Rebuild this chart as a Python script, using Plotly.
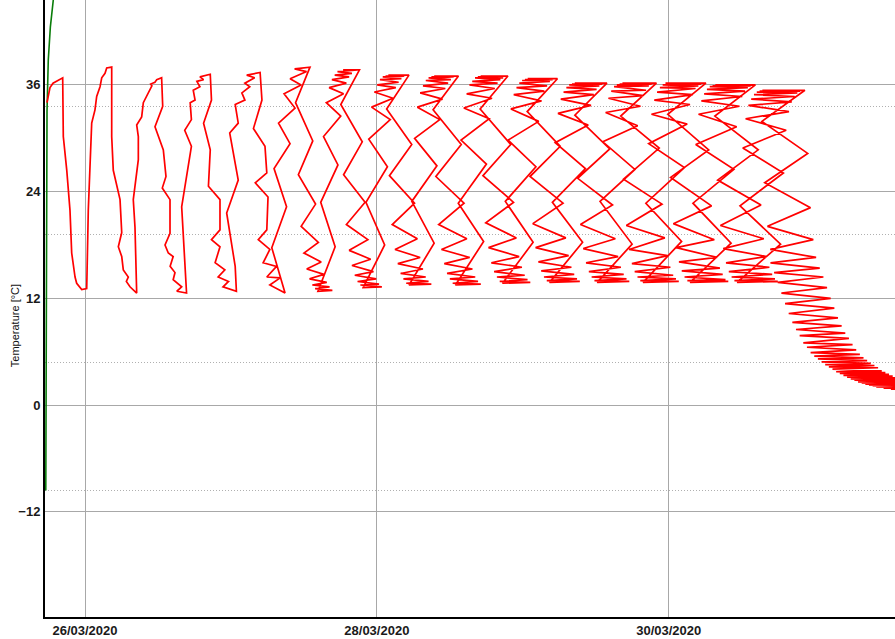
import pandas as pd
import plotly.graph_objects as go

# ---------------- data (hours after 26/03/2020 00:00, temperature in °C) ----------------
green_t = [-6.45, -6.4, -6.33, -6.25, -6.04, -5.7, -5.21, -5.0]
green_T = [-9.6, 5.0, 22.0, 33.0, 38.8, 42.5, 45.6, 47.0]

red_start_t = [-6.25, -5.76, -5.26, -4.44]
red_start_T = [34.0, 35.7, 36.2, 36.5]

c01_t = [-3.67, -3.57, -3.0, -2.47, -2.19, -1.64, -1.37, -0.54, 0.28, 0.54, 0.94, 1.1, 1.64, 1.92, 2.47, 2.75, 3.29, 3.57]
c01_T = [36.8, 30.2, 26.4, 21.9, 17.1, 14.4, 13.7, 13.0, 13.1, 21.9, 29.8, 31.7, 33.2, 34.7, 35.8, 36.8, 37.3, 37.9]

c02_t = [4.39, 4.39, 4.65, 5.21, 5.76, 6.04, 5.48, 6.04, 6.30, 7.12, 6.8, 7.40, 8.22, 8.50,
         8.22, 7.94, 8.77, 8.77, 8.50, 9.32, 9.59, 10.14, 10.69, 11.0, 10.8, 11.5, 11.8]
c02_T = [38.0, 30.2, 26.4, 24.6, 23.1, 19.4, 17.8, 16.7, 15.2, 14.4, 13.9, 13.3, 12.8, 12.6,
         20.0, 23.1, 27.6, 30.2, 31.5, 32.4, 34.0, 34.7, 35.4, 35.9, 36.1, 36.3, 36.6]

c03_t = [12.6, 12.78, 11.51, 12.88, 13.32, 12.71, 13.98, 13.98, 13.16, 13.7, 14.5, 14.0, 14.8, 14.5, 15.9, 15.1, 16.7,
         15.9, 17.5, 16.4, 17.5, 17.3, 18.1, 17.8, 18.9, 18.4, 19.5, 18.9]
c03_T = [36.8, 33.6, 31.3, 28.7, 25.7, 24.4, 23.1, 19.3, 18.0, 17.1, 16.7, 15.6, 14.9, 14.1, 13.3, 12.8, 12.6,
         22.3, 29.1, 30.9, 32.1, 34.0, 34.3, 35.4, 35.8, 36.4, 36.6, 36.9]

c04_t = [20.6, 20.8, 19.5, 20.6, 20.3, 22.2, 22.2, 20.8, 22.2, 21.4, 23.0, 21.9, 23.6, 22.7, 24.9,
         24.7, 23.3, 25.2, 23.8, 25.2, 24.7, 26.3, 25.8, 27.1, 26.3, 27.9, 26.6]
c04_T = [37.2, 34.3, 31.7, 28.7, 24.6, 23.1, 19.7, 18.6, 17.8, 16.0, 15.2, 14.4, 13.9, 13.3, 12.8,
         15.6, 21.6, 25.3, 30.6, 31.7, 33.8, 34.3, 35.1, 35.8, 36.2, 36.8, 37.1]

c05_t = [28.8, 29.1, 27.7, 29.6, 29.9, 28.0, 30.1, 29.9, 28.5, 30.4, 29.3, 31.5, 29.9, 32.1, 30.4, 32.9,
         30.72, 33.15, 31.09, 33.72, 31.83, 34.54, 32.74, 35.53, 33.73, 36.44, 34.47]
c05_T = [37.4, 34.3, 31.1, 29.1, 26.1, 25.0, 23.4, 19.7, 18.6, 17.5, 16.0, 15.6, 14.4, 14.3, 13.5, 12.6,
         17.7, 22.3, 26.6, 29.4, 31.7, 33.4, 35.0, 36.0, 36.7, 37.5, 37.8]

c06_t = [37.00, 34.63, 37.46, 35.09, 37.92, 35.55, 38.38, 36.01, 38.84, 36.47, 39.30, 36.93, 39.76, 37.39, 40.22, 37.85, 40.68, 38.31,
         41.14, 38.77, 41.60, 39.23, 42.06, 39.69, 42.52, 40.15, 42.98, 40.61, 43.44, 41.07, 43.90, 41.53, 44.36, 41.99, 44.82, 42.45]
c06_T = [38.0, 34.0, 29.7, 25.9, 22.6, 20.1, 18.3, 17.1, 16.1, 15.3, 14.7, 14.2, 13.8, 13.5, 13.3, 13.1, 12.9, 12.8,
         17.8, 22.8, 27.0, 30.2, 32.5, 34.0, 35.0, 35.7, 36.2, 36.6, 36.9, 37.1, 37.3, 37.5, 37.6, 37.6, 37.7, 37.7]

c07_t = [45.14, 42.07, 45.60, 42.53, 46.06, 42.99, 46.52, 43.45, 46.98, 43.91, 47.44, 44.37, 47.90, 44.83, 48.36, 45.29, 48.82, 45.75,
         49.28, 46.21, 49.74, 46.67, 50.20, 47.13, 50.66, 47.59, 51.12, 48.05, 51.58, 48.51, 52.04, 48.97, 52.50, 49.43, 52.96, 49.89]
c07_T = [37.7, 33.8, 29.6, 25.9, 22.8, 20.3, 18.6, 17.4, 16.4, 15.7, 15.0, 14.6, 14.2, 13.9, 13.6, 13.5, 13.3, 13.2,
         18.0, 22.8, 26.8, 29.9, 32.1, 33.5, 34.5, 35.2, 35.7, 36.0, 36.3, 36.6, 36.7, 36.9, 37.0, 37.0, 37.1, 37.1]

c08_t = [53.28, 49.61, 53.74, 50.07, 54.20, 50.53, 54.66, 50.99, 55.12, 51.45, 55.58, 51.91, 56.04, 52.37, 56.50, 52.83, 56.96, 53.29,
         57.42, 53.75, 57.88, 54.21, 58.34, 54.67, 58.80, 55.13, 59.26, 55.59, 59.72, 56.05, 60.18, 56.51, 60.64, 56.97, 61.10, 57.43]
c08_T = [37.1, 33.3, 29.3, 25.8, 22.7, 20.3, 18.7, 17.5, 16.6, 15.9, 15.3, 14.8, 14.4, 14.2, 13.9, 13.7, 13.6, 13.5,
         18.2, 22.9, 26.9, 30.0, 32.1, 33.5, 34.4, 35.1, 35.6, 35.9, 36.2, 36.5, 36.6, 36.8, 36.9, 36.9, 37.0, 37.0]

c09_t = [61.42, 57.25, 61.88, 57.71, 62.34, 58.17, 62.80, 58.63, 63.26, 59.09, 63.72, 59.55, 64.18, 60.01, 64.64, 60.47, 65.10, 60.93,
         65.56, 61.39, 66.02, 61.85, 66.48, 62.31, 66.94, 62.77, 67.40, 63.23, 67.86, 63.69, 68.32, 64.15, 68.78, 64.61, 69.24, 65.07]
c09_T = [37.0, 33.2, 29.3, 25.7, 22.7, 20.3, 18.7, 17.5, 16.6, 15.9, 15.3, 14.8, 14.4, 14.2, 13.9, 13.7, 13.6, 13.5,
         18.4, 22.7, 27.1, 29.8, 32.2, 33.4, 34.5, 35.0, 35.6, 36.0, 36.2, 36.4, 36.6, 36.8, 36.8, 36.9, 37.0, 37.0]

c10_t = [69.56, 64.99, 70.02, 65.45, 70.48, 65.91, 70.94, 66.37, 71.40, 66.83, 71.86, 67.29, 72.32, 67.75, 72.78, 68.21, 73.24, 68.67,
         73.70, 69.13, 74.16, 69.59, 74.62, 70.05, 75.08, 70.51, 75.54, 70.97, 76.00, 71.43, 76.46, 71.89, 76.92, 72.35, 77.38, 72.81]
c10_T = [37.0, 33.3, 29.3, 25.8, 22.8, 20.5, 18.8, 17.7, 16.7, 16.0, 15.5, 15.0, 14.6, 14.4, 14.1, 13.9, 13.8, 13.7,
         18.3, 22.9, 26.8, 29.8, 31.9, 33.3, 34.2, 34.9, 35.3, 35.7, 35.9, 36.2, 36.4, 36.5, 36.6, 36.6, 36.7, 36.7]

c11_t = [77.70, 72.73, 78.16, 73.19, 78.62, 73.65, 79.08, 74.11, 79.54, 74.57, 80.00, 75.03, 80.46, 75.49, 80.92, 75.95, 81.38, 76.41,
         81.84, 76.87, 82.30, 77.33, 82.76, 77.79, 83.22, 78.25, 83.68, 78.71, 84.14, 79.17, 84.60, 79.63, 85.06, 80.09, 85.52, 80.55]
c11_T = [36.7, 33.0, 29.1, 25.7, 22.7, 20.4, 18.8, 17.7, 16.8, 16.1, 15.5, 15.1, 14.7, 14.4, 14.2, 14.0, 13.9, 13.8,
         18.3, 22.8, 26.6, 29.5, 31.5, 32.8, 33.7, 34.4, 34.9, 35.2, 35.5, 35.7, 35.9, 36.0, 36.1, 36.1, 36.2, 36.2]

c12_t = [85.84, 80.57, 86.30, 81.03, 86.76, 81.49, 87.22, 81.95, 87.68, 82.41, 88.14, 82.87, 88.60, 83.33, 89.06, 83.79, 89.52, 84.25,
         89.98, 84.71, 90.44, 85.17, 90.90, 85.63, 91.36, 86.09, 91.82, 86.55, 92.28, 87.01, 92.74, 87.47, 93.20, 87.93, 93.66, 88.39]
c12_T = [36.2, 32.6, 28.8, 25.5, 22.5, 20.3, 18.7, 17.6, 16.7, 16.0, 15.5, 15.0, 14.7, 14.4, 14.2, 14.0, 13.9, 13.8,
         18.1, 22.9, 26.5, 29.6, 31.4, 32.9, 33.6, 34.5, 34.8, 35.3, 35.4, 35.8, 35.9, 36.0, 36.1, 36.1, 36.2, 36.2]

c13_t = [93.98, 88.11, 94.44, 88.57, 94.90, 89.03, 95.36, 89.49, 95.82, 89.95, 96.28, 90.41, 96.74, 90.87, 97.20, 91.33, 97.66, 91.79,
         98.12, 92.25, 98.58, 92.71, 99.04, 93.17, 99.50, 93.63, 99.96, 94.09, 100.42, 94.55, 100.88, 95.01, 101.34, 95.47, 101.80, 95.93]
c13_T = [36.2, 32.5, 28.9, 25.4, 22.6, 20.2, 18.8, 17.5, 16.8, 15.9, 15.5, 15.0, 14.6, 14.4, 14.2, 14.0, 13.9, 13.8,
         18.4, 22.7, 26.7, 29.4, 31.6, 32.7, 33.8, 34.3, 34.9, 35.2, 35.6, 35.7, 35.9, 36.0, 36.1, 36.2, 36.2, 36.2]

c14_t = [102.12, 95.85, 102.58, 96.31, 103.04, 96.77, 103.50, 97.23, 103.96, 97.69, 104.42, 98.15, 104.88, 98.61, 105.34, 99.07, 105.80, 99.53,
         106.26, 99.99, 106.72, 100.45, 107.18, 100.91, 107.64, 101.37, 108.10, 101.83, 108.56, 102.29, 109.02, 102.75, 109.48, 103.21, 109.94, 103.67]
c14_T = [36.2, 32.7, 28.7, 25.6, 22.4, 20.4, 18.6, 17.7, 16.6, 16.1, 15.4, 15.1, 14.7, 14.4, 14.1, 14.0, 13.9, 13.8,
         18.2, 22.7, 26.5, 29.3, 31.3, 32.7, 33.6, 34.2, 34.7, 35.0, 35.3, 35.5, 35.7, 35.8, 35.9, 35.9, 36.0, 36.0]

c15_t = [110.26, 103.59, 110.72, 104.05, 111.18, 104.51, 111.64, 104.97, 112.10, 105.43, 112.56, 105.89, 113.02, 106.35, 113.48, 106.81, 113.94, 107.27,
         114.40, 107.73, 114.86, 108.19, 115.32, 108.65, 115.78, 109.11, 116.24, 109.57, 116.70, 110.03, 117.16, 110.49, 117.62, 110.95, 118.08, 111.41]
c15_T = [36.0, 32.5, 28.7, 25.3, 22.5, 20.2, 18.7, 17.6, 16.7, 16.0, 15.5, 15.0, 14.7, 14.4, 14.2, 14.0, 13.9, 13.8,
         18.1, 22.4, 26.1, 28.9, 30.9, 32.2, 33.0, 33.7, 34.1, 34.4, 34.7, 34.9, 35.1, 35.2, 35.3, 35.3, 35.4, 35.4]

c16_t = [118.40, 111.33, 118.86, 111.79, 119.32, 112.25, 119.78, 112.71, 120.24]
c16_T = [35.4, 31.9, 28.3, 25.0, 22.2, 20.1, 18.6, 17.5, 16.6]

tail_t = [112.74, 120.84, 113.34, 121.44, 113.94, 122.04, 114.54, 122.64, 115.14, 123.24,
          115.74, 123.84, 116.34, 124.44, 116.94, 125.04, 117.54, 125.64, 118.14, 126.24,
          118.74, 126.84, 119.34, 127.44, 119.94, 128.04, 120.54, 128.64, 121.14, 129.24,
          121.74, 129.84, 122.34, 130.44, 122.94, 131.04, 123.54, 131.64, 124.14, 132.24,
          124.74, 132.84, 125.34, 133.44, 125.94, 134.04, 126.54, 134.64, 127.14, 135.24,
          127.74, 135.84, 128.34, 136.44, 128.94, 137.04, 129.54, 137.64, 130.14, 138.24,
          130.74, 138.84, 131.34, 139.44, 131.94, 140.04, 132.54, 140.64, 133.14, 141.24]
tail_T = [16.0, 15.4, 14.9, 14.4, 13.8, 13.2, 12.6, 12.0, 11.4, 10.9,
          10.3, 9.8, 9.3, 8.9, 8.5, 8.1, 7.8, 7.5, 7.0, 6.8,
          6.5, 6.2, 5.9, 5.7, 5.5, 5.3, 5.2, 5.0, 4.85, 4.7,
          4.55, 4.45, 4.3, 4.2, 4.05, 3.85, 3.75, 3.65, 3.55, 3.45,
          3.35, 3.25, 3.15, 3.05, 2.95, 2.85, 2.8, 2.7, 2.6, 2.55,
          2.5, 2.4, 2.35, 2.3, 2.25, 2.2, 2.15, 2.1, 2.05, 2.0,
          1.97, 1.94, 1.91, 1.88, 1.85, 1.82, 1.8, 1.78, 1.76, 1.74]

x_tick_dates = ["2020-03-26", "2020-03-28", "2020-03-30"]
x_tick_text = ["26/03/2020", "28/03/2020", "30/03/2020"]
y_tick_vals = [-12, 0, 12, 24, 36]
y_minor_vals = [-9.6, 4.8, 19.2, 33.6]

# ---------------- build series ----------------
segments = [(red_start_t, red_start_T), (c01_t, c01_T), (c02_t, c02_T), (c03_t, c03_T),
            (c04_t, c04_T), (c05_t, c05_T), (c06_t, c06_T), (c07_t, c07_T), (c08_t, c08_T),
            (c09_t, c09_T), (c10_t, c10_T), (c11_t, c11_T), (c12_t, c12_T), (c13_t, c13_T),
            (c14_t, c14_T), (c15_t, c15_T), (c16_t, c16_T), (tail_t, tail_T)]
red_h, red_T = [], []
for ts, Ts in segments:
    assert len(ts) == len(Ts), (len(ts), len(Ts))
    red_h += ts
    red_T += Ts

base = pd.Timestamp("2020-03-26 00:00")
def to_dt(hours):
    return [base + pd.Timedelta(hours=h) for h in hours]

fig = go.Figure()
fig.add_trace(go.Scatter(x=to_dt(green_t), y=green_T, mode="lines",
                         line=dict(color="#0a7d0a", width=1.6), showlegend=False))
fig.add_trace(go.Scatter(x=to_dt(red_h), y=red_T, mode="lines",
                         line=dict(color="#ff0000", width=1.7), showlegend=False))

x0 = base + pd.Timedelta(hours=-6.58)
x1 = base + pd.Timedelta(hours=133.22)

fig.update_layout(
    width=895, height=639,
    margin=dict(l=45, r=0, t=0, b=22),
    paper_bgcolor="white", plot_bgcolor="white",
    font=dict(family="Liberation Sans, Arial, sans-serif", color="#111111"),
    showlegend=False,
    xaxis=dict(range=[x0, x1], tickmode="array", tickvals=x_tick_dates, ticktext=x_tick_text,
               tickfont=dict(size=13, weight="bold", color="#1a1a1a"),
               showgrid=True, gridcolor="#a8a8a8", gridwidth=1,
               showline=True, linecolor="#000000", linewidth=2, mirror=False,
               ticks="", zeroline=False),
    yaxis=dict(range=[-23.83, 45.55], tickmode="array", tickvals=y_tick_vals,
               tickfont=dict(size=13, weight="bold", color="#1a1a1a"),
               showgrid=True, gridcolor="#a8a8a8", gridwidth=1,
               showline=True, linecolor="#000000", linewidth=2,
               ticks="", zeroline=False,
               minor=dict(tickmode="array", tickvals=y_minor_vals, showgrid=True,
                          gridcolor="#b0b0b0", gridwidth=1, griddash="1px,2px", ticks="")),
    annotations=[dict(text="Temperature [°C]", xref="paper", yref="paper",
                      x=-0.036, y=0.472, xanchor="center", yanchor="middle",
                      textangle=-90, showarrow=False,
                      font=dict(size=11, color="#111111"))],
)

fig.write_html("out.html", config={"displayModeBar": False},
               post_script="document.body.style.margin='0';document.body.style.overflow='hidden';")
